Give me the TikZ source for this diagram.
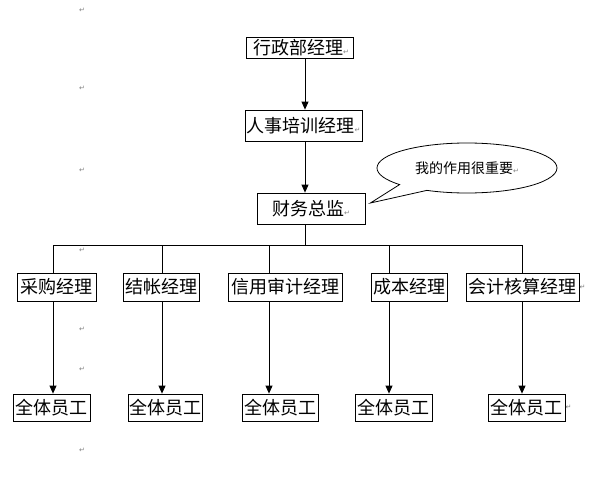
\documentclass[tikz,border=0pt]{standalone}
\usepackage{fontspec}
\newfontfamily\cjk{Noto Sans CJK SC}
\newfontfamily\markfont{DejaVu Sans}
\usetikzlibrary{arrows.meta,shapes.callouts}
\newcommand{\pmark}{{\markfont\fontsize{7}{7}\selectfont\color{gray}↵}}

\begin{document}
\begin{tikzpicture}[x=1pt,y=-1pt]

			\tikzstyle{post}=[fill=white,draw=black,line width=0.8pt,
				inner sep=0pt,minimum height=28pt,
				font=\cjk\fontsize{18}{20}\selectfont]
			\tikzstyle{conn}=[draw=black,line width=0.8pt]
			\tikzstyle{arr}=[conn,-{Triangle[width=7pt,length=8pt]}]

			\useasboundingbox (0,0) rectangle (598,479);

			\node[post,minimum width=107pt,minimum height=21pt]	(xz)	at (299.5,47.5)	{\,行政部经理\pmark};
			\node[post,minimum width=117pt,minimum height=31pt]	(rs)	at (303.5,125.5)	{人事培训经理\pmark};
			\node[post,minimum width=108pt,minimum height=31pt]	(cw)	at (311,208.5)	{财务总监\pmark};

			\node[post,minimum width=79pt]	(cg)	at (56.5,287)	{采购经理};
			\node[post,minimum width=76pt]	(jz)	at (161,287)	{结帐经理};
			\node[post,minimum width=114pt]	(xy)	at (285,287)	{信用审计经理};
			\node[post,minimum width=76pt]	(cb)	at (409,287)	{成本经理};
			\node[post,minimum width=113pt]	(kj)	at (522.5,287)	{会计核算经理};

			\node[post,minimum width=77pt,minimum height=27pt]	(yg1)	at (51.5,407.5)	{全体员工};
			\node[post,minimum width=74pt,minimum height=27pt]	(yg2)	at (165,407.5)	{全体员工};
			\node[post,minimum width=76pt,minimum height=27pt]	(yg3)	at (280,407.5)	{全体员工};
			\node[post,minimum width=77pt,minimum height=27pt]	(yg4)	at (393.5,407.5)	{全体员工};
			\node[post,minimum width=77pt,minimum height=27pt]	(yg5)	at (526.5,407.5)	{全体员工};

			\node[ellipse callout,draw=black,line width=0.8pt,fill=white,
				minimum width=180pt,minimum height=50pt,inner sep=0pt,
				callout absolute pointer={([xshift=5pt,yshift=5.5pt]cw.east)},
				callout pointer arc=22,
				font=\cjk\fontsize{14}{16}\selectfont]
				(hua)	at (467,168)	{我的作用很重要\pmark};

			% spine and bus
			\coordinate (spine)	at (305,245);
			\coordinate (b1)	at (53,245);
			\coordinate (b2)	at (162,245);
			\coordinate (b3)	at (269,245);
			\coordinate (b4)	at (389,245);
			\coordinate (b5)	at (522,245);

			\draw[arr]	(xz.south -| spine)	-- (rs.north -| spine);
			\draw[arr]	(rs.south -| spine)	-- (cw.north -| spine);
			\draw[conn]	(cw.south -| spine)	-- (spine);
			\draw[conn]	(b1) -- (b5);

			\foreach \b/\m/\y in {b1/cg/yg1,b2/jz/yg2,b3/xy/yg3,b4/cb/yg4,b5/kj/yg5}{
				\draw[conn]	(\b) -- (\m.north -| \b);
				\draw[arr]	(\m.south -| \b) -- (\y.north -| \b);
			}

			% paragraph marks
			\foreach \py in {10,88,170,250,329,369,450}
				\node[inner sep=0pt]	at (82,\py)	{\pmark};
			\node[inner sep=0pt,anchor=west]	at (kj.east)	{\pmark};
			\node[inner sep=0pt,anchor=west]	at (yg5.east)	{\pmark};

\end{tikzpicture}
\end{document}
